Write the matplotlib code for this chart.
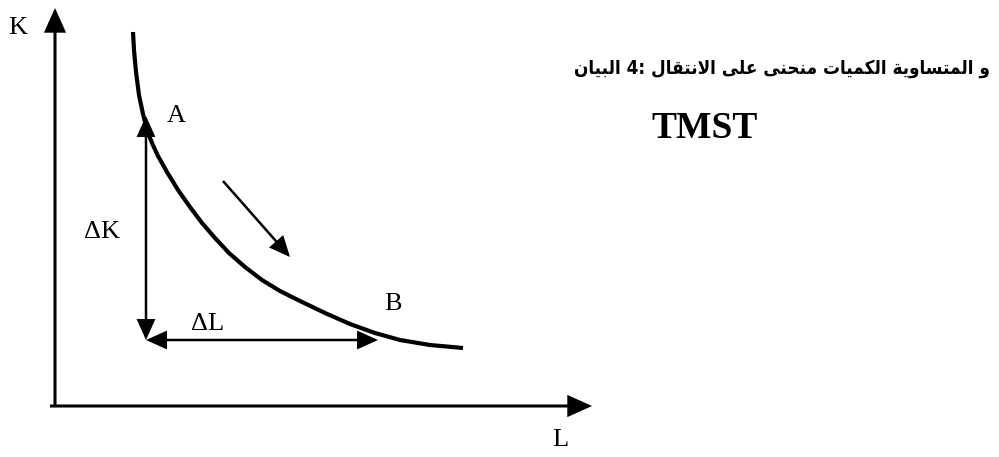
import matplotlib
matplotlib.use("Agg")
import matplotlib.pyplot as plt
from matplotlib.patches import FancyArrowPatch
from matplotlib import font_manager

# ---- data (pixel-space coordinates) ----
curve_L = [133, 134, 136, 139, 143, 147, 152, 158, 167, 178, 190, 202, 215, 229,
           245, 262, 280, 300, 325, 350, 375, 400, 430, 463]
curve_K = [32, 50, 72, 95, 114, 130, 143, 156, 172, 190, 207, 223, 238, 253,
           267, 280, 291, 301, 313, 324, 333, 340, 345, 348]

title_words = ["البيان", "4:", "الانتقال", "على", "منحنى", "الكميات", "المتساوية", "و"]
title_line2 = "TMST"

# ---- minimal Arabic shaping (presentation forms) ----
FORMS = {
    'ا': ('\uFE8D', '\uFE8E', None, None),
    'ب': ('\uFE8F', '\uFE90', '\uFE91', '\uFE92'),
    'ة': ('\uFE93', '\uFE94', None, None),
    'ت': ('\uFE95', '\uFE96', '\uFE97', '\uFE98'),
    'ح': ('\uFEA1', '\uFEA2', '\uFEA3', '\uFEA4'),
    'س': ('\uFEB1', '\uFEB2', '\uFEB3', '\uFEB4'),
    'ع': ('\uFEC9', '\uFECA', '\uFECB', '\uFECC'),
    'ق': ('\uFED5', '\uFED6', '\uFED7', '\uFED8'),
    'ك': ('\uFED9', '\uFEDA', '\uFEDB', '\uFEDC'),
    'ل': ('\uFEDD', '\uFEDE', '\uFEDF', '\uFEE0'),
    'م': ('\uFEE1', '\uFEE2', '\uFEE3', '\uFEE4'),
    'ن': ('\uFEE5', '\uFEE6', '\uFEE7', '\uFEE8'),
    'و': ('\uFEED', '\uFEEE', None, None),
    'ى': ('\uFEEF', '\uFEF0', None, None),
    'ي': ('\uFEF1', '\uFEF2', '\uFEF3', '\uFEF4'),
}


def dual(c):
    return c in FORMS and FORMS[c][2] is not None


def shape_word(w):
    if not any(c in FORMS for c in w):
        return w
    out = []
    i = 0
    n = len(w)
    while i < n:
        c = w[i]
        prev = w[i - 1] if i > 0 else None
        jp = prev is not None and dual(prev)
        if c == 'ل' and i + 1 < n and w[i + 1] == 'ا':
            out.append('\uFEFC' if jp else '\uFEFB')
            i += 2
            continue
        nxt = w[i + 1] if i + 1 < n else None
        jn = dual(c) and nxt is not None and nxt in FORMS
        iso, fin, ini, med = FORMS[c]
        if jp and jn:
            g = med
        elif jp:
            g = fin
        elif jn:
            g = ini
        else:
            g = iso
        out.append(g)
        i += 1
    return ''.join(reversed(out))


title_line1 = " ".join(shape_word(w) for w in title_words)

# ---- figure ----
fig = plt.figure(figsize=(9.99, 4.57), dpi=100)
ax = fig.add_axes([0, 0, 1, 1])
ax.set_xlim(0, 999)
ax.set_ylim(457, 0)
ax.axis('off')


def arrow(p0, p1, style, lw, ms):
    a = FancyArrowPatch(p0, p1, arrowstyle=style, mutation_scale=ms,
                        lw=lw, color='black', shrinkA=0, shrinkB=0,
                        joinstyle='miter', capstyle='butt')
    ax.add_patch(a)


# axes
arrow((55, 407), (55, 8), '-|>,head_length=1.0,head_width=0.45', 2.2, 14)
arrow((50, 406), (592, 406), '-|>,head_length=1.0,head_width=0.45', 2.2, 14)

# isoquant curve
ax.plot(curve_L, curve_K, color='black', lw=3.0, solid_capstyle='butt',
        solid_joinstyle='round')

# delta K / delta L arrows
arrow((146, 340), (146, 116), '<|-|>,head_length=1.0,head_width=0.45', 1.8, 12)
arrow((146, 340), (378, 340), '<|-|>,head_length=1.0,head_width=0.45', 1.8, 12)
# movement arrow
arrow((223, 181), (290, 257), '-|>,head_length=1.0,head_width=0.45', 1.8, 12)

serif = 'Liberation Serif'
fs = 19
ax.text(18, 28, 'K', fontsize=fs, family=serif, ha='center', va='center')
ax.text(560, 440, 'L', fontsize=fs, family=serif, ha='center', va='center')
ax.text(176, 116, 'A', fontsize=fs, family=serif, ha='center', va='center')
ax.text(393, 304, 'B', fontsize=fs, family=serif, ha='center', va='center')
ax.text(102, 232, 'ΔK', fontsize=fs, family=serif, ha='center', va='center')
ax.text(208, 324, 'ΔL', fontsize=fs, family=serif, ha='center', va='center')

ar_font = font_manager.FontProperties(family='DejaVu Sans', weight='bold',
                                      stretch='condensed', size=13.5)
ax.text(990, 68, title_line1, fontproperties=ar_font, ha='right', va='center')
ax.text(705, 129, title_line2, fontsize=27, family=serif, weight='bold',
        ha='center', va='center')

fig.savefig('out.png', dpi=100)
